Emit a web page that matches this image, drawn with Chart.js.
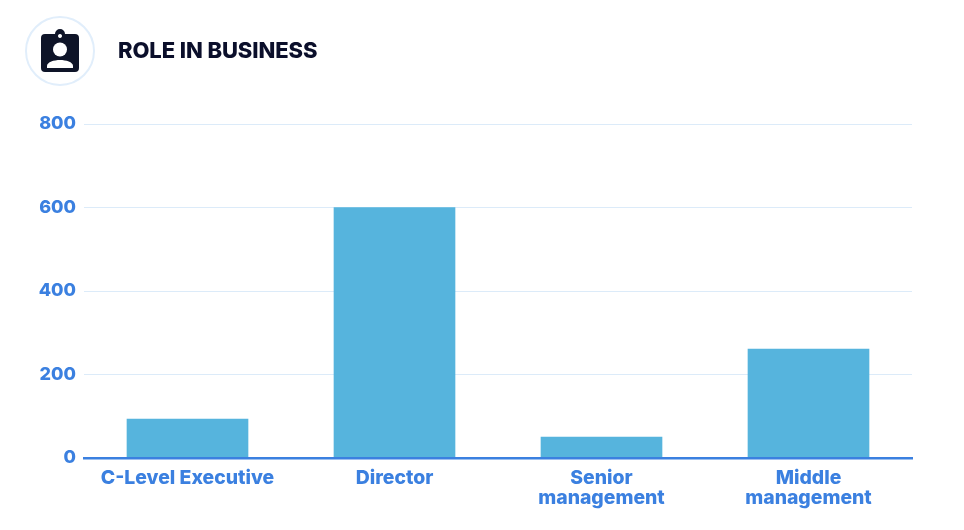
<!DOCTYPE html>
<html>
<head>
<meta charset="utf-8">
<title>Role in business</title>
<script src="https://cdn.jsdelivr.net/npm/chart.js@4/dist/chart.umd.min.js"></script>
<style>
html, body { margin: 0; padding: 0; background: #fff; }
#wrap { position: relative; width: 964px; height: 530px; overflow: hidden; }
#myChart { position: absolute; left: 0; top: 0; }
#icon { position: absolute; left: 25px; top: 16px; }
#title { position: absolute; left: 118px; top: 37px; font: 800 22px/26px Inter, sans-serif; letter-spacing: -0.1px; color: #0b0f2b; white-space: nowrap; }
</style>
</head>
<body>
<div id="wrap">
  <canvas id="myChart" width="964" height="530"></canvas>
  <svg id="icon" width="70" height="70" viewBox="0 0 70 70">
    <circle cx="35" cy="35" r="34" fill="#fff" stroke="#e1eefb" stroke-width="2"/>
    <path fill-rule="evenodd" fill="#0e1428" d="M20 18h10a5 5 0 0 1 10 0h10a4 4 0 0 1 4 4v30a4 4 0 0 1-4 4H20a4 4 0 0 1-4-4V22a4 4 0 0 1 4-4zM35 18a2 2 0 1 0 0.010 0z"/>
    <circle cx="35" cy="33.500" r="7" fill="#fff"/>
    <path fill="#fff" d="M22 52v-2c0-4 7-6 13-6s13 2 13 6v2z"/>
  </svg>
  <div id="title">ROLE IN BUSINESS</div>
</div>
<script>
var categories = ["C-Level Executive", "Director", ["Senior", "management"], ["Middle", "management"]]
var values = [93, 600, 50, 261]
var yTicks = [0, 200, 400, 600, 800]

var blue = "#3b80e0"

var myChart = document.getElementById("myChart").getContext("2d")

var chart = new Chart(myChart, {
    type: "bar",
    data: {
        labels: categories,
        datasets: [
            {
                data: values,
                backgroundColor: "#56b4dd",
                barThickness: 121
            }
        ]
    },
    options: {
        responsive: false,
        animation: false,
        layout: { padding: { left: 0, right: 52, top: 124, bottom: 20 } },
        plugins: { legend: { display: false }, tooltip: { enabled: false } },
        scales: {
            x: {
                grid: { display: false },
                border: { color: blue, width: 2.5, z: 2 },
                ticks: {
                    color: blue,
                    font: { family: "Inter, sans-serif", size: 19.400, weight: "800", lineHeight: 1.03 },
                    maxRotation: 0,
                    padding: 2
                }
            },
            y: {
                min: 0,
                max: 800,
                afterFit: function (scale) { scale.width = 84 },
                afterBuildTicks: function (scale) {
                    scale.ticks = yTicks.map(function (v) { return { value: v } })
                },
                grid: {
                    color: "#dcebf9",
                    lineWidth: 1,
                    drawTicks: false
                },
                border: { display: false },
                ticks: {
                    color: blue,
                    font: { family: "Inter, sans-serif", size: 18, weight: "800" },
                    padding: 8
                }
            }
        }
    }
})
</script>
</body>
</html>
